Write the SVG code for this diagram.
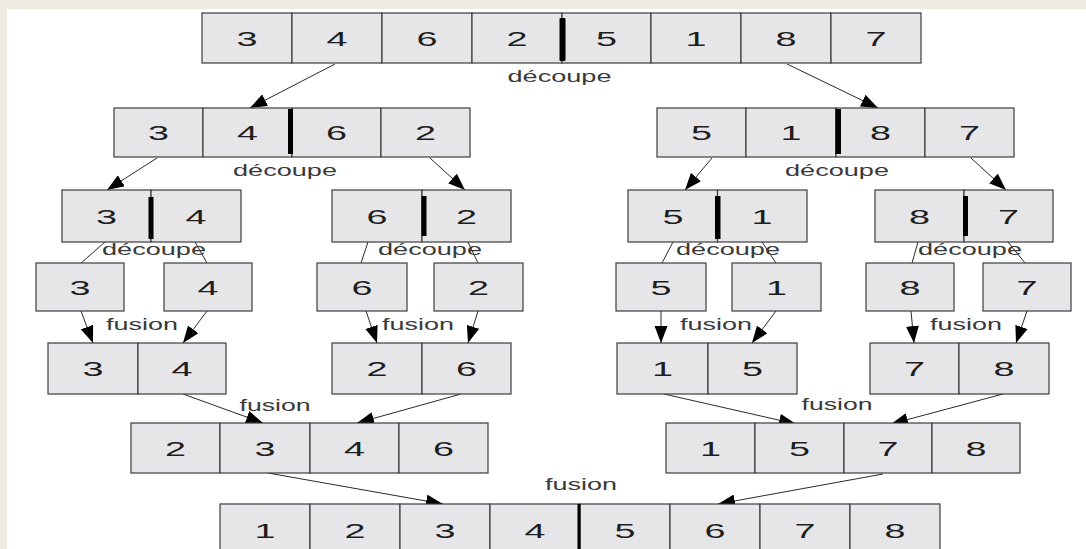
<svg xmlns="http://www.w3.org/2000/svg" width="1086" height="549" viewBox="0 0 1086 549">
<style>
.cell{fill:#e6e6e8;stroke:#3c3c3c;stroke-width:1.2}
.bar{fill:#000}
.d{font-family:"Liberation Sans",Arial,sans-serif;font-size:20.5px;fill:#1e1e1e;text-anchor:middle}
.l{font-family:"Liberation Sans",Arial,sans-serif;font-size:16.5px;fill:#3a3a3a;text-anchor:middle}
.c{stroke:#2a2a2a;stroke-width:1;fill:none}
.a{marker-end:url(#ah)}
</style>
<defs>
<marker id="ah" markerUnits="userSpaceOnUse" markerWidth="17" markerHeight="13" refX="17" refY="6.5" orient="auto"><path d="M0,0 L17,6.5 L0,13 z" fill="#000"/></marker>
</defs>
<rect x="0" y="0" width="1086" height="549" fill="#eeece1"/>
<rect x="7" y="9" width="1079" height="540" fill="#fff"/>

<g id="connectors">
<line class="c a" x1="335" y1="64" x2="250" y2="108"/>
<line class="c a" x1="787" y1="64" x2="878" y2="108"/>
<line class="c a" x1="157" y1="158" x2="107" y2="190"/>
<line class="c a" x1="430" y1="158" x2="465" y2="190"/>
<line class="c a" x1="712" y1="158" x2="685" y2="190"/>
<line class="c a" x1="971" y1="158" x2="1006" y2="190"/>
<line class="c" x1="105" y1="242" x2="81" y2="263"/>
<line class="c" x1="195" y1="242" x2="207" y2="263"/>
<line class="c" x1="368" y1="242" x2="361" y2="263"/>
<line class="c" x1="468" y1="242" x2="478" y2="263"/>
<line class="c" x1="673" y1="242" x2="662" y2="263"/>
<line class="c" x1="762" y1="242" x2="776" y2="263"/>
<line class="c" x1="918" y1="242" x2="912" y2="263"/>
<line class="c" x1="1008" y1="242" x2="1025" y2="263"/>
<line class="c a" x1="81" y1="311" x2="93" y2="343"/>
<line class="c a" x1="207" y1="311" x2="183" y2="343"/>
<line class="c a" x1="366" y1="311" x2="377" y2="343"/>
<line class="c a" x1="478" y1="311" x2="468" y2="343"/>
<line class="c a" x1="661" y1="311" x2="661" y2="343"/>
<line class="c a" x1="776" y1="311" x2="752" y2="343"/>
<line class="c a" x1="911" y1="311" x2="914" y2="343"/>
<line class="c a" x1="1027" y1="311" x2="1016" y2="343"/>
<line class="c a" x1="183" y1="394" x2="263" y2="423"/>
<line class="c a" x1="461" y1="394" x2="357" y2="423"/>
<line class="c a" x1="664" y1="394" x2="796" y2="424"/>
<line class="c a" x1="1003" y1="394" x2="891" y2="424"/>
<line class="c a" x1="268" y1="473" x2="443" y2="504"/>
<line class="c a" x1="883" y1="474" x2="718" y2="504"/>
</g>

<g id="row1">
<rect class="cell" x="202" y="13" width="90" height="50"/><rect class="cell" x="292" y="13" width="90" height="50"/><rect class="cell" x="382" y="13" width="90" height="50"/><rect class="cell" x="472" y="13" width="90" height="50"/><rect class="cell" x="562" y="13" width="89" height="50"/><rect class="cell" x="651" y="13" width="90" height="50"/><rect class="cell" x="741" y="13" width="90" height="50"/><rect class="cell" x="831" y="13" width="90" height="50"/>
<rect class="bar" x="559.5" y="18" width="6" height="43" rx="1"/>
<text class="d" x="247" y="45.5" textLength="21" lengthAdjust="spacingAndGlyphs">3</text><text class="d" x="337" y="45.5" textLength="21" lengthAdjust="spacingAndGlyphs">4</text><text class="d" x="427" y="45.5" textLength="21" lengthAdjust="spacingAndGlyphs">6</text><text class="d" x="517" y="45.5" textLength="21" lengthAdjust="spacingAndGlyphs">2</text><text class="d" x="606.5" y="45.5" textLength="21" lengthAdjust="spacingAndGlyphs">5</text><text class="d" x="696" y="45.5" textLength="21" lengthAdjust="spacingAndGlyphs">1</text><text class="d" x="786" y="45.5" textLength="21" lengthAdjust="spacingAndGlyphs">8</text><text class="d" x="876" y="45.5" textLength="21" lengthAdjust="spacingAndGlyphs">7</text>
</g>

<g id="row2-left">
<rect class="cell" x="114" y="108" width="89" height="49"/><rect class="cell" x="203" y="108" width="89" height="49"/><rect class="cell" x="292" y="108" width="89" height="49"/><rect class="cell" x="381" y="108" width="89" height="49"/>
<rect class="bar" x="288" y="109" width="5" height="45"/>
<text class="d" x="158.5" y="140" textLength="21" lengthAdjust="spacingAndGlyphs">3</text><text class="d" x="247.5" y="140" textLength="21" lengthAdjust="spacingAndGlyphs">4</text><text class="d" x="336.5" y="140" textLength="21" lengthAdjust="spacingAndGlyphs">6</text><text class="d" x="425.5" y="140" textLength="21" lengthAdjust="spacingAndGlyphs">2</text>
</g>
<g id="row2-right">
<rect class="cell" x="657" y="108" width="89" height="49"/><rect class="cell" x="746" y="108" width="90" height="49"/><rect class="cell" x="836" y="108" width="89" height="49"/><rect class="cell" x="925" y="108" width="89" height="49"/>
<rect class="bar" x="835.5" y="109" width="5.5" height="45"/>
<text class="d" x="701.5" y="140" textLength="21" lengthAdjust="spacingAndGlyphs">5</text><text class="d" x="791" y="140" textLength="21" lengthAdjust="spacingAndGlyphs">1</text><text class="d" x="880.5" y="140" textLength="21" lengthAdjust="spacingAndGlyphs">8</text><text class="d" x="969.5" y="140" textLength="21" lengthAdjust="spacingAndGlyphs">7</text>
</g>

<g id="row3-a">
<rect class="cell" x="62" y="190" width="89" height="52"/><rect class="cell" x="151" y="190" width="90" height="52"/>
<rect class="bar" x="148.5" y="197" width="5" height="42"/>
<text class="d" x="106.5" y="223.5" textLength="21" lengthAdjust="spacingAndGlyphs">3</text><text class="d" x="196" y="223.5" textLength="21" lengthAdjust="spacingAndGlyphs">4</text>
</g>
<g id="row3-b">
<rect class="cell" x="332" y="190" width="90" height="52"/><rect class="cell" x="422" y="190" width="89" height="52"/>
<rect class="bar" x="421.5" y="196" width="5" height="40"/>
<text class="d" x="377" y="223.5" textLength="21" lengthAdjust="spacingAndGlyphs">6</text><text class="d" x="466.5" y="223.5" textLength="21" lengthAdjust="spacingAndGlyphs">2</text>
</g>
<g id="row3-c">
<rect class="cell" x="628" y="190" width="89.5" height="52"/><rect class="cell" x="717.5" y="190" width="89.5" height="52"/>
<rect class="bar" x="715" y="196" width="5.5" height="43"/>
<text class="d" x="673" y="223.5" textLength="21" lengthAdjust="spacingAndGlyphs">5</text><text class="d" x="762" y="223.5" textLength="21" lengthAdjust="spacingAndGlyphs">1</text>
</g>
<g id="row3-d">
<rect class="cell" x="875" y="190" width="89" height="52"/><rect class="cell" x="964" y="190" width="89" height="52"/>
<rect class="bar" x="963" y="196" width="5" height="40"/>
<text class="d" x="919.5" y="223.5" textLength="21" lengthAdjust="spacingAndGlyphs">8</text><text class="d" x="1008.5" y="223.5" textLength="21" lengthAdjust="spacingAndGlyphs">7</text>
</g>

<g id="row4-1"><rect class="cell" x="36" y="263" width="88" height="48"/><text class="d" x="80" y="294.5" textLength="21" lengthAdjust="spacingAndGlyphs">3</text></g>
<g id="row4-2"><rect class="cell" x="164" y="263" width="88" height="48"/><text class="d" x="208" y="294.5" textLength="21" lengthAdjust="spacingAndGlyphs">4</text></g>
<g id="row4-3"><rect class="cell" x="317" y="263" width="90" height="48"/><text class="d" x="362" y="294.5" textLength="21" lengthAdjust="spacingAndGlyphs">6</text></g>
<g id="row4-4"><rect class="cell" x="434" y="263" width="89" height="48"/><text class="d" x="478.5" y="294.5" textLength="21" lengthAdjust="spacingAndGlyphs">2</text></g>
<g id="row4-5"><rect class="cell" x="616" y="263" width="90" height="48"/><text class="d" x="661" y="294.5" textLength="21" lengthAdjust="spacingAndGlyphs">5</text></g>
<g id="row4-6"><rect class="cell" x="732" y="263" width="89" height="48"/><text class="d" x="776.5" y="294.5" textLength="21" lengthAdjust="spacingAndGlyphs">1</text></g>
<g id="row4-7"><rect class="cell" x="866" y="263" width="88" height="48"/><text class="d" x="910" y="294.5" textLength="21" lengthAdjust="spacingAndGlyphs">8</text></g>
<g id="row4-8"><rect class="cell" x="983" y="263" width="88" height="48"/><text class="d" x="1027" y="294.5" textLength="21" lengthAdjust="spacingAndGlyphs">7</text></g>

<g id="row5-a">
<rect class="cell" x="48" y="343" width="90" height="51"/><rect class="cell" x="138" y="343" width="88" height="51"/>
<text class="d" x="93" y="376" textLength="21" lengthAdjust="spacingAndGlyphs">3</text><text class="d" x="182" y="376" textLength="21" lengthAdjust="spacingAndGlyphs">4</text>
</g>
<g id="row5-b">
<rect class="cell" x="332" y="343" width="90" height="51"/><rect class="cell" x="422" y="343" width="89" height="51"/>
<text class="d" x="377" y="376" textLength="21" lengthAdjust="spacingAndGlyphs">2</text><text class="d" x="466.5" y="376" textLength="21" lengthAdjust="spacingAndGlyphs">6</text>
</g>
<g id="row5-c">
<rect class="cell" x="617" y="343" width="91" height="51"/><rect class="cell" x="708" y="343" width="89" height="51"/>
<text class="d" x="662.5" y="376" textLength="21" lengthAdjust="spacingAndGlyphs">1</text><text class="d" x="752.5" y="376" textLength="21" lengthAdjust="spacingAndGlyphs">5</text>
</g>
<g id="row5-d">
<rect class="cell" x="870" y="343" width="89" height="51"/><rect class="cell" x="959" y="343" width="90" height="51"/>
<text class="d" x="914.5" y="376" textLength="21" lengthAdjust="spacingAndGlyphs">7</text><text class="d" x="1004" y="376" textLength="21" lengthAdjust="spacingAndGlyphs">8</text>
</g>

<g id="row6-a">
<rect class="cell" x="131" y="423" width="89" height="50"/><rect class="cell" x="220" y="423" width="90" height="50"/><rect class="cell" x="310" y="423" width="89" height="50"/><rect class="cell" x="399" y="423" width="89" height="50"/>
<text class="d" x="175.5" y="455.5" textLength="21" lengthAdjust="spacingAndGlyphs">2</text><text class="d" x="265" y="455.5" textLength="21" lengthAdjust="spacingAndGlyphs">3</text><text class="d" x="354.5" y="455.5" textLength="21" lengthAdjust="spacingAndGlyphs">4</text><text class="d" x="443.5" y="455.5" textLength="21" lengthAdjust="spacingAndGlyphs">6</text>
</g>
<g id="row6-b">
<rect class="cell" x="666" y="423" width="89" height="50"/><rect class="cell" x="755" y="423" width="89" height="50"/><rect class="cell" x="844" y="423" width="88" height="50"/><rect class="cell" x="932" y="423" width="88" height="50"/>
<text class="d" x="710.5" y="455.5" textLength="21" lengthAdjust="spacingAndGlyphs">1</text><text class="d" x="799.5" y="455.5" textLength="21" lengthAdjust="spacingAndGlyphs">5</text><text class="d" x="888" y="455.5" textLength="21" lengthAdjust="spacingAndGlyphs">7</text><text class="d" x="976" y="455.5" textLength="21" lengthAdjust="spacingAndGlyphs">8</text>
</g>

<g id="row7">
<rect class="cell" x="220" y="504" width="90" height="52"/><rect class="cell" x="310" y="504" width="90" height="52"/><rect class="cell" x="400" y="504" width="90" height="52"/><rect class="cell" x="490" y="504" width="90" height="52"/><rect class="cell" x="580" y="504" width="90" height="52"/><rect class="cell" x="670" y="504" width="90" height="52"/><rect class="cell" x="760" y="504" width="90" height="52"/><rect class="cell" x="850" y="504" width="90" height="52"/>
<line x1="579" y1="504" x2="579" y2="549" stroke="#000" stroke-width="3"/>
<text class="d" x="265" y="538" textLength="21" lengthAdjust="spacingAndGlyphs">1</text><text class="d" x="355" y="538" textLength="21" lengthAdjust="spacingAndGlyphs">2</text><text class="d" x="445" y="538" textLength="21" lengthAdjust="spacingAndGlyphs">3</text><text class="d" x="535" y="538" textLength="21" lengthAdjust="spacingAndGlyphs">4</text><text class="d" x="625" y="538" textLength="21" lengthAdjust="spacingAndGlyphs">5</text><text class="d" x="715" y="538" textLength="21" lengthAdjust="spacingAndGlyphs">6</text><text class="d" x="805" y="538" textLength="21" lengthAdjust="spacingAndGlyphs">7</text><text class="d" x="895" y="538" textLength="21" lengthAdjust="spacingAndGlyphs">8</text>
</g>

<g id="labels">
<text class="l" x="559.5" y="82" textLength="104" lengthAdjust="spacingAndGlyphs">découpe</text>
<text class="l" x="285" y="176" textLength="104" lengthAdjust="spacingAndGlyphs">découpe</text>
<text class="l" x="837" y="176" textLength="104" lengthAdjust="spacingAndGlyphs">découpe</text>
<text class="l" x="154" y="255" textLength="104" lengthAdjust="spacingAndGlyphs">découpe</text>
<text class="l" x="430" y="255" textLength="104" lengthAdjust="spacingAndGlyphs">découpe</text>
<text class="l" x="728" y="255" textLength="104" lengthAdjust="spacingAndGlyphs">découpe</text>
<text class="l" x="970" y="255" textLength="104" lengthAdjust="spacingAndGlyphs">découpe</text>
<text class="l" x="142" y="330" textLength="72" lengthAdjust="spacingAndGlyphs">fusion</text>
<text class="l" x="418" y="330" textLength="72" lengthAdjust="spacingAndGlyphs">fusion</text>
<text class="l" x="716" y="330" textLength="72" lengthAdjust="spacingAndGlyphs">fusion</text>
<text class="l" x="966" y="330" textLength="72" lengthAdjust="spacingAndGlyphs">fusion</text>
<text class="l" x="275" y="411" textLength="71" lengthAdjust="spacingAndGlyphs">fusion</text>
<text class="l" x="837" y="410" textLength="71" lengthAdjust="spacingAndGlyphs">fusion</text>
<text class="l" x="581" y="490" textLength="72" lengthAdjust="spacingAndGlyphs">fusion</text>
</g>
</svg>
